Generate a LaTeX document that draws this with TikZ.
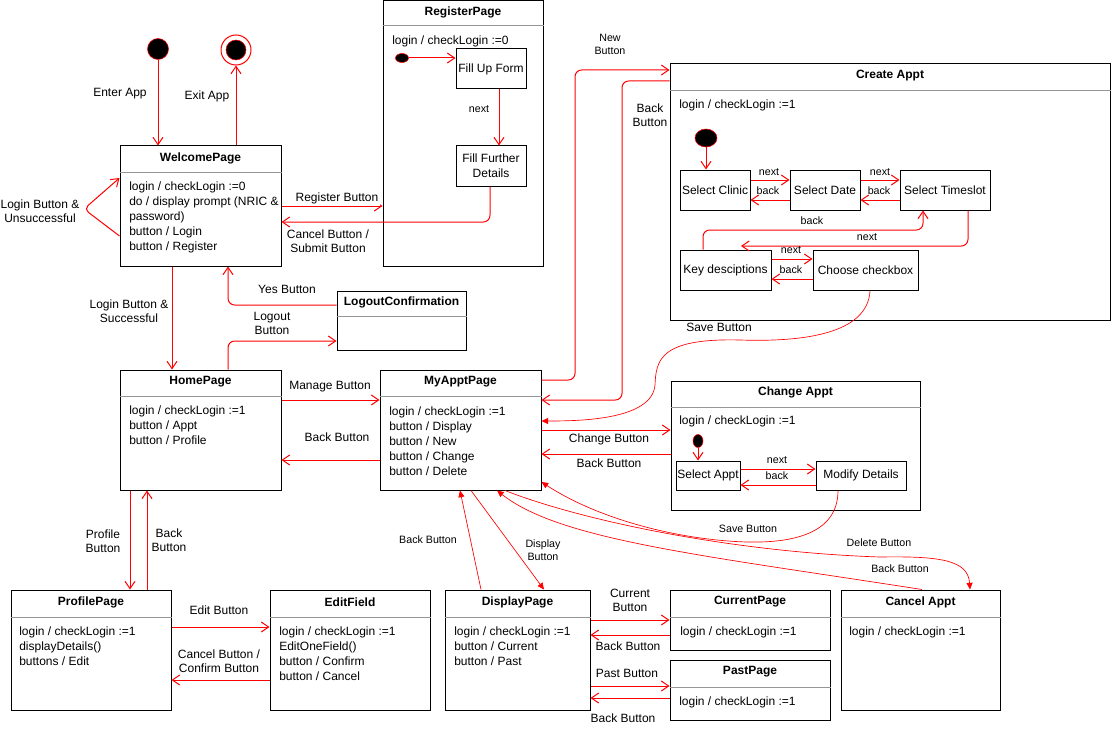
\documentclass[tikz,border=0pt]{standalone}
\usepackage{fontspec}
\setmainfont{Liberation Sans}
\usetikzlibrary{arrows.meta,fit,shapes.geometric}
\definecolor{lr}{RGB}{255,0,0}
\definecolor{divg}{RGB}{150,150,150}
\begin{document}
\begin{tikzpicture}[x=0.75pt,y=-0.75pt,
  box/.style={draw=black,line width=0.75pt,inner sep=0pt},
  stxt/.style={font=\fontsize{9}{11.25}\selectfont,align=center,inner sep=0pt},
  ttl/.style={font=\bfseries\fontsize{9}{11}\selectfont,inner sep=0pt},
  body/.style={font=\fontsize{9}{11.25}\selectfont,align=left,anchor=north west,inner sep=0pt},
  lbl/.style={font=\fontsize{9}{10.5}\selectfont,align=center,inner sep=0.5pt},
  slbl/.style={font=\fontsize{8}{9.75}\selectfont,align=center,inner sep=0.5pt},
  arr/.style={draw=lr,line width=0.75pt,-{Straight Barb[length=5.5pt,width=7.5pt]}},
  tarr/.style={draw=lr,line width=0.5pt,-{Triangle[length=5pt,width=4.5pt]}},
  divl/.style={draw=divg,line width=0.75pt},
  idot/.style={circle,draw=lr,fill=black,line width=0.4pt,inner sep=0pt},
  edot/.style={ellipse,draw=lr,fill=black,line width=0.4pt,inner sep=0pt},
]
\fill[white] (0,0) rectangle (1112,731);
\useasboundingbox (0,0) rectangle (1112,731);

% ---------- big boxes ----------
\node[box,fit={(120,146)(281,266)}] (welcome) {};
\node[box,fit={(383,0.5)(543,266)}] (register) {};
\node[box,fit={(337,291)(466,350)}] (logout) {};
\node[box,fit={(120,370)(281,490)}] (home) {};
\node[box,fit={(380,370)(541,490)}] (myappt) {};
\node[box,fit={(670,64)(1110,320)}] (create) {};
\node[box,fit={(671,381)(920,510)}] (change) {};
\node[box,fit={(11,590)(171,710)}] (profile) {};
\node[box,fit={(270,590)(430,710)}] (edit) {};
\node[box,fit={(445,590)(590,710)}] (display) {};
\node[box,fit={(670,590)(830,650)}] (current) {};
\node[box,fit={(670,660)(830,720)}] (past) {};
\node[box,fit={(841,590)(1000,710)}] (cancel) {};

% dividers
\draw[divl] (welcome.west |- 0,172) -- (welcome.east |- 0,172);
\draw[divl] (register.west |- 0,26) -- (register.east |- 0,26);
\draw[divl] (logout.west |- 0,316) -- (logout.east |- 0,316);
\draw[divl] (home.west |- 0,396) -- (home.east |- 0,396);
\draw[divl] (myappt.west |- 0,396) -- (myappt.east |- 0,396);
\draw[divl] (create.west |- 0,91) -- (create.east |- 0,91);
\draw[divl] (change.west |- 0,407) -- (change.east |- 0,407);
\draw[divl] (profile.west |- 0,617) -- (profile.east |- 0,617);
\draw[divl] (edit.west |- 0,617) -- (edit.east |- 0,617);
\draw[divl] (display.west |- 0,617) -- (display.east |- 0,617);
\draw[divl] (current.west |- 0,617) -- (current.east |- 0,617);
\draw[divl] (past.west |- 0,687) -- (past.east |- 0,687);
\draw[divl] (cancel.west |- 0,617) -- (cancel.east |- 0,617);

% titles
\node[ttl] (welcomeT) at (200.5,158) {WelcomePage};
\node[ttl] (registerT) at (463,12) {RegisterPage};
\node[ttl] (logoutT) at (401.5,302) {LogoutConfirmation};
\node[ttl] (homeT) at (200.5,382) {HomePage};
\node[ttl] (myapptT) at (460.5,382) {MyApptPage};
\node[ttl] (createT) at (890,76) {Create Appt};
\node[ttl] (changeT) at (795.5,392) {Change Appt};
\node[ttl] (profileT) at (91,602) {ProfilePage};
\node[ttl] (editT) at (350,602) {EditField};
\node[ttl] (displayT) at (517.5,602) {DisplayPage};
\node[ttl] (currentT) at (750,602) {CurrentPage};
\node[ttl] (pastT) at (750,672) {PastPage};
\node[ttl] (cancelT) at (920.5,602) {Cancel Appt};

% bodies
\node[body] (welcomeB) at (129,182) {login / checkLogin :=0\\do / display prompt (NRIC \&\\password)\\button / Login\\button / Register};
\node[body] (registerB) at (392,36) {login / checkLogin :=0};
\node[body] (homeB) at (129,405.5) {login / checkLogin :=1\\button / Appt\\button / Profile};
\node[body] (myapptB) at (389,406.5) {login / checkLogin :=1\\button / Display\\button / New\\button / Change\\button / Delete};
\node[body] (createB) at (679,99.5) {login / checkLogin :=1};
\node[body] (changeB) at (679,415.5) {login / checkLogin :=1};
\node[body] (profileB) at (19,626.5) {login / checkLogin :=1\\displayDetails()\\buttons / Edit};
\node[body] (editB) at (279,626.5) {login / checkLogin :=1\\EditOneField()\\button / Confirm\\button / Cancel};
\node[body] (displayB) at (454,626.5) {login / checkLogin :=1\\button / Current\\button / Past};
\node[body] (currentB) at (680,626.5) {login / checkLogin :=1};
\node[body] (pastB) at (679,696.5) {login / checkLogin :=1};
\node[body] (cancelB) at (849,626.5) {login / checkLogin :=1};

% sub states
\node[box,fit={(456,49)(526,89)}] (fillup) {};
\node[stxt] (fillupT) at (fillup.center) {Fill Up Form};
\node[box,fit={(456,146)(526,186)}] (further) {};
\node[stxt] (furtherT) at (further.center) {Fill Further\\Details};
\node[box,fit={(680,170)(750,210)}] (clinic) {};
\node[stxt] (clinicT) at (clinic.center) {Select Clinic};
\node[box,fit={(790,170)(860,210)}] (date) {};
\node[stxt] (dateT) at (date.center) {Select Date};
\node[box,fit={(900,170)(990,210)}] (timeslot) {};
\node[stxt] (timeslotT) at (timeslot.center) {Select Timeslot};
\node[box,fit={(680,250)(771,290)}] (keyd) {};
\node[stxt] (keydT) at (keyd.center) {Key desciptions};
\node[box,fit={(813,250)(918,290)}] (choose) {};
\node[stxt] (chooseT) at (choose.center) {Choose checkbox};
\node[box,fit={(676,461)(740,490)}] (selappt) {};
\node[stxt] (selapptT) at (selappt.center) {Select Appt};
\node[box,fit={(816,461)(906,490)}] (modify) {};
\node[stxt] (modifyT) at (modify.center) {Modify Details};

% pseudo states
\node[idot,minimum size=15.75pt] (init) at (158,49) {};
\node[circle,draw=lr,fill=white,line width=0.75pt,inner sep=0pt,minimum size=22.5pt] (finalo) at (236,50) {};
\node[idot,minimum size=15pt] (finali) at (236,50) {};
\node[edot,minimum width=9.75pt,minimum height=6.75pt] (rdot) at (402,58) {};
\node[edot,minimum width=16.5pt,minimum height=13.5pt] (cdot) at (706,138) {};
\node[edot,minimum width=7.5pt,minimum height=9.75pt] (chdot) at (698,441) {};

% ---------- top transitions ----------
\draw[arr] (init.south) -- (init.south |- welcome.north);
\node[lbl] (lEnter) at (120,94) {Enter App};
\draw[arr] (finalo.south |- welcome.north) -- (finalo.south);
\node[lbl] (lExit) at (207,96) {Exit App};
\draw[arr,rounded corners=4pt] (welcome.west |- 0,236) -- (84,209) -- (welcome.west |- 0,178);
\node[lbl] (lLoop) at (40,211) {Login Button \&\\Unsuccessful};
\draw[arr] (welcome.east |- 0,206) -- (register.west |- 0,206);
\node[lbl,fill=white,inner sep=1.5pt] (lReg) at (337,198) {Register Button};
\draw[arr,rounded corners=5pt] (490,0 |- further.south) -- (490,222) -- (welcome.east |- 0,222);
\node[lbl] (lCancelSub) at (328,241) {Cancel Button /\\Submit Button};
\draw[arr] (rdot.east) -- (fillup.west |- rdot.east);
\draw[arr] (499,0 |- fillup.south) -- (499,0 |- further.north);
\node[slbl] (lRnext) at (479,109) {next};

\draw[arr] (172,0 |- welcome.south) -- (172,0 |- home.north);
\node[lbl] (lLogSucc) at (129,311) {Login Button \&\\Successful};
\draw[arr,rounded corners=5pt] (logout.west |- 0,305) -- (228,305) -- (228,0 |- welcome.south);
\node[lbl] (lYes) at (287,289) {Yes Button};
\draw[arr,rounded corners=5pt] (228,0 |- home.north) -- (228,341) -- (logout.west |- 0,341);
\node[lbl] (lLogout) at (272,323) {Logout\\Button};

% ---------- home / myappt ----------
\draw[arr] (home.east |- 0,400) -- (myappt.west |- 0,400);
\node[lbl] (lManage) at (330,387) {Manage Button};
\draw[arr] (myappt.west |- 0,460) -- (home.east |- 0,460);
\node[lbl] (lBackHome) at (337,437) {Back Button};

\draw[arr,rounded corners=5pt] (myappt.east |- 0,380) -- (575,380) -- (575,70) -- (create.west |- 0,70);
\node[slbl] (lNew) at (610,44) {New\\Button};
\draw[arr,rounded corners=5pt] (create.west |- 0,81) -- (622,81) -- (622,400) -- (myappt.east |- 0,400);
\node[lbl] (lBackCreate) at (650,115) {Back\\Button};
\draw[tarr] (870,0 |- choose.south) .. controls (868,335) and (800,342) .. (740,340)
   .. controls (660,338) and (656,360) .. (655,385)
   .. controls (652,420) and (580,421) .. (myappt.east |- 0,421);
\node[lbl] (lSave1) at (719,327) {Save Button};

\draw[arr] (myappt.east |- 0,430) -- (change.west |- 0,430);
\node[lbl] (lChange) at (609,439) {Change Button};
\draw[arr] (change.west |- 0,454) -- (myappt.east |- 0,454);
\node[lbl] (lBackChange) at (609,463) {Back Button};
\draw[tarr] (838,0 |- modify.south) .. controls (838,535) and (790,543) .. (747,542)
   .. controls (680,540) and (600,520) .. (myappt.east |- 0,482);
\node[slbl] (lSave2) at (748,529) {Save Button};

\draw[tarr] (505,0 |- myappt.south) .. controls (580,520) and (730,552) .. (880,557)
   .. controls (940,556) and (968,560) .. (970,0 |- cancel.north);
\node[slbl] (lDelete) at (879,543) {Delete Button};
\draw[tarr] (922,0 |- cancel.north) .. controls (700,555) and (560,540) .. (497,0 |- myappt.south);
\node[slbl] (lBackCancel) at (900,569) {Back Button};

\draw[tarr] (471,0 |- myappt.south) -- (544,0 |- display.north);
\node[slbl] (lDisplay) at (543,550) {Display\\Button};
\draw[tarr] (481,0 |- display.north) -- (460,0 |- myappt.south);
\node[slbl] (lBackDisp) at (428,540) {Back Button};

% ---------- create appt internals ----------
\draw[arr] (cdot.south) -- (cdot.south |- clinic.north);
\draw[arr] (clinic.east |- 0,180) -- (date.west |- 0,180);
\node[slbl] (lN1) at (769,172) {next};
\draw[arr] (date.west |- 0,200) -- (clinic.east |- 0,200);
\node[slbl] (lB1) at (768,191) {back};
\draw[arr] (date.east |- 0,180) -- (timeslot.west |- 0,180);
\node[slbl] (lN2) at (880,172) {next};
\draw[arr] (timeslot.west |- 0,200) -- (date.east |- 0,200);
\node[slbl] (lB2) at (879,191) {back};
\draw[arr,rounded corners=5pt] (703,0 |- keyd.north) -- (703,230) -- (923,230) -- (923,0 |- timeslot.south);
\node[slbl] (lB3) at (812,221) {back};
\coordinate (nextend) at (741,246);
\draw[arr,rounded corners=5pt] (968,0 |- timeslot.south) -- (968,246) -- (nextend);
\node[slbl] (lN3) at (867,237) {next};
\draw[arr] (keyd.east |- 0,259) -- (choose.west |- 0,259);
\node[slbl] (lN4) at (791,250) {next};
\draw[arr] (choose.west |- 0,279) -- (keyd.east |- 0,279);
\node[slbl] (lB4) at (791,270) {back};

% ---------- change appt internals ----------
\draw[arr] (chdot.south) -- (chdot.south |- selappt.north);
\draw[arr] (selappt.east |- 0,469) -- (modify.west |- 0,469);
\node[slbl] (lN5) at (777,460) {next};
\draw[arr] (modify.west |- 0,485) -- (selappt.east |- 0,485);
\node[slbl] (lB5) at (777,476) {back};

% ---------- display ----------
\draw[arr] (display.east |- 0,620) -- (current.west |- 0,620);
\node[lbl] (lCurrent) at (630,600) {Current\\Button};
\draw[arr] (current.west |- 0,635) -- (display.east |- 0,635);
\node[lbl] (lBackCur) at (628,646) {Back Button};
\draw[arr] (display.east |- 0,686) -- (past.west |- 0,686);
\node[lbl] (lPast) at (627,673) {Past Button};
\draw[arr] (past.west |- 0,698) -- (display.east |- 0,698);
\node[lbl] (lBackPast) at (623,718) {Back Button};

% ---------- profile ----------
\draw[arr] (130,0 |- home.south) -- (130,0 |- profile.north);
\node[lbl] (lProfile) at (103,541) {Profile\\Button};
\draw[arr] (147,0 |- profile.north) -- (147,0 |- home.south);
\node[lbl] (lBackProf) at (169,540) {Back\\Button};
\draw[arr] (profile.east |- 0,627) -- (edit.west |- 0,627);
\node[lbl] (lEdit) at (219,610) {Edit Button};
\draw[arr] (edit.west |- 0,680) -- (profile.east |- 0,680);
\node[lbl] (lCancelConf) at (219,661) {Cancel Button /\\Confirm Button};
\end{tikzpicture}
\end{document}
